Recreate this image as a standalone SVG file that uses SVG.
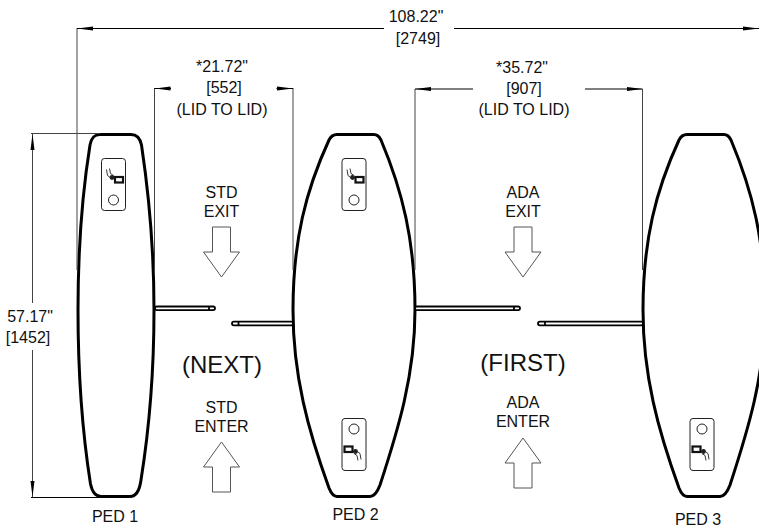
<svg xmlns="http://www.w3.org/2000/svg" width="759" height="528" viewBox="0 0 759 528">
<style>
text{font-family:"Liberation Sans",Arial,sans-serif;fill:#111;text-anchor:middle;font-size:16px}
.big{font-size:24px}
.body{fill:#fff;stroke:#000;stroke-width:3}
.dim{fill:none;stroke:#000;stroke-width:1}
.ext{fill:none;stroke:#444;stroke-width:1}
.flow{fill:#fff;stroke:#555;stroke-width:1}
.arm{fill:#fff;stroke:#000;stroke-width:1.8}
.pad{fill:#fff;stroke:#222;stroke-width:1}
.hand{fill:none;stroke:#222;stroke-width:.9}
</style>
<defs>
<marker id="a" markerUnits="userSpaceOnUse" markerWidth="16" markerHeight="6" refX="16" refY="3" orient="auto-start-reverse"><path d="M0,1 L16,3 L0,5 Z" fill="#000"/></marker>
<g id="reader">
<rect x="-12" y="-26" width="24" height="52" rx="3" class="pad"/>
<circle cx="0" cy="15.500" r="5" class="pad"/>
<path class="hand" d="M-7,-15 L-6,-9 L-2,-6 M-4,-16 L-3,-11 L0,-9"/>
<circle cx="-1.500" cy="-7" r="2.400" fill="#222"/>
<rect x="1.500" y="-7.500" width="8" height="5.500" fill="#fff" stroke="#111" stroke-width="2.200"/>
</g>
<path id="flow-down" d="M-9,-25 H9 V0 H18 L0,25 L-18,0 H-9 Z"/>
</defs>
<g id="ped-1">
<path class="body" d="M100,134.500 H131 C137,134.500 140,138 141.500,145 C149,195 154,250 154,310 C154,375 149,430 141,480 C139.500,491 136,496.500 130,496.500 H101 C95,496.500 92,491 90.500,484 C82,430 78,375 78,310 C78,250 82,195 90,145 C91.500,138 94,134.500 100,134.500 Z"/>
<use href="#reader" x="113.500" y="184.500"/>
<text x="115" y="521.500">PED 1</text>
</g>
<g id="ped-2">
<path class="body" d="M337,134.500 H374 C377,134.500 379,136 381,140 C402,190 415,240 415,310 C415,375 398,430 380,485 C377,493 374,496.500 370,496.500 H337 C333,496.500 331,493 329,488 C308,430 293,375 293,310 C293,240 306,190 329,140 C331,136 333,134.500 337,134.500 Z"/>
<use href="#reader" x="354" y="184.500"/>
<use href="#reader" x="354" y="444.500" transform="rotate(180 354 444.500)"/>
<text x="355.500" y="520">PED 2</text>
</g>
<g id="ped-3">
<path class="body" d="M687,134.500 H724 C727,134.500 729,136 731,140 C752,190 765,240 765,310 C765,375 748,430 730,485 C727,493 724,496.500 720,496.500 H687 C683,496.500 681,493 679,488 C658,430 643,375 643,310 C643,240 656,190 679,140 C681,136 683,134.500 687,134.500 Z"/>
<use href="#reader" x="702" y="444.500" transform="rotate(180 702 444.500)"/>
<text x="698" y="524.500">PED 3</text>
</g>
<g id="connectors">
<path class="ext" d="M77,28 V270 M154.500,88 V270 M293,88 V270 M415,89 V270 M642.500,89 V270"/>
<path class="ext" d="M31,133.500 H100"/>
<path class="dim" d="M31,497.500 H100"/>
<path class="dim" marker-start="url(#a)" d="M77,28.500 H384"/>
<path class="dim" marker-end="url(#a)" d="M454,28.500 H759"/>
<path class="dim" marker-start="url(#a)" d="M154.500,88.500 H171"/>
<path class="dim" marker-end="url(#a)" d="M276.500,88.500 H293"/>
<path class="dim" marker-start="url(#a)" d="M415,89 H473"/>
<path class="dim" marker-end="url(#a)" d="M585,89 H642.500"/>
<path class="ext" marker-start="url(#a)" d="M32.500,134 V303"/>
<path class="ext" marker-end="url(#a)" d="M32.500,350 V497"/>
</g>
<g id="arms">
<rect class="arm" x="155" y="306.500" width="60" height="3.600" rx="1.800"/><path class="arm" d="M209,306.500 V310.100"/>
<rect class="arm" x="232" y="321.700" width="61" height="3.600" rx="1.800"/><path class="arm" d="M238.500,321.700 V325.300"/>
<rect class="arm" x="415" y="306.500" width="105" height="3.600" rx="1.800"/><path class="arm" d="M514,306.500 V310.100"/>
<rect class="arm" x="538" y="321.700" width="105" height="3.600" rx="1.800"/><path class="arm" d="M545,321.700 V325.300"/>
</g>
<g id="std-exit"><use href="#flow-down" class="flow" x="221.500" y="252"/><text x="221.500" y="198">STD</text><text x="221.500" y="217">EXIT</text></g>
<g id="ada-exit"><use href="#flow-down" class="flow" x="523" y="252"/><text x="523" y="198">ADA</text><text x="523" y="217">EXIT</text></g>
<g id="std-enter"><use href="#flow-down" class="flow" transform="translate(221.500 467) scale(1 -1)"/><text x="221.500" y="413">STD</text><text x="221.500" y="432">ENTER</text></g>
<g id="ada-enter"><use href="#flow-down" class="flow" transform="translate(523 463) scale(1 -1)"/><text x="523" y="408">ADA</text><text x="523" y="427">ENTER</text></g>
<g id="labels">
<text x="416" y="22">108.22"</text><text x="418" y="43.500">[2749]</text>
<text x="222" y="71.500">*21.72"</text><text x="224" y="93">[552]</text><text x="222" y="115">(LID TO LID)</text>
<text x="522" y="72.500">*35.72"</text><text x="524" y="94">[907]</text><text x="524" y="115">(LID TO LID)</text>
<text x="30" y="322">57.17"</text><text x="28" y="343">[1452]</text>
<text class="big" x="222" y="372.500">(NEXT)</text>
<text class="big" x="523" y="370.500">(FIRST)</text>
</g>
</svg>
